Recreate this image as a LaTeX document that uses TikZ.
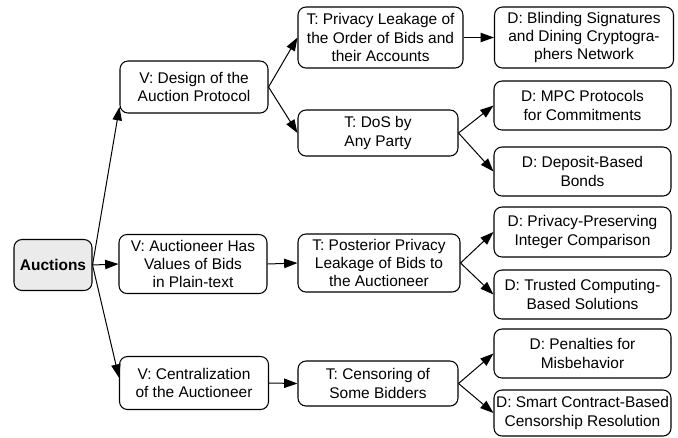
\documentclass[tikz,border=0pt]{standalone}
\usepackage{fontspec}
\setmainfont{Liberation Sans}
\usetikzlibrary{arrows.meta}
\tikzset{
BOX/.style={draw=black, line width=0.8pt, rounded corners=6pt, fill=white, align=center, inner sep=1pt, font=\fontsize{11.6}{13.6}\selectfont},
SIZE/.style 2 args={minimum width=#1*0.75pt, minimum height=#2*0.75pt},
ROOT/.style={BOX, fill=black!8, font=\fontsize{11.6}{13.6}\selectfont\bfseries},
LINK/.style={draw=black, line width=0.75pt, -{Triangle[length=10pt,width=7pt]}},
}

\begin{document}
\begin{tikzpicture}[x=0.75pt,y=-0.75pt]
	\useasboundingbox (0,0) rectangle (678,437);
	%root
	\node[ROOT, SIZE={78}{51}] (A) at (53,265) {Auctions};
	%vulnerabilities
	\node[BOX, SIZE={148}{52}] (V1) at (194,87) {V: Design of the\\Auction Protocol};
	\node[BOX, SIZE={148}{59}] (V2) at (193,264) {V: Auctioneer Has\\Values of Bids\\in Plain-text};
	\node[BOX, SIZE={149}{53}] (V3) at (194,383) {V: Centralization\\of the Auctioneer};
	%threats
	\node[BOX, SIZE={165}{61}] (T1) at (380.5,37.5) {T: Privacy Leakage of\\the Order of Bids and\\their Accounts};
	\node[BOX, SIZE={160}{46}] (T2) at (378,133) {T: DoS by\\Any Party};
	\node[BOX, SIZE={162}{58}] (T3) at (379,263) {T: Posterior Privacy\\Leakage of Bids to\\the Auctioneer};
	\node[BOX, SIZE={160}{45}] (T4) at (378,383.5) {T: Censoring of\\Some Bidders};
	%defenses
	\node[BOX, SIZE={179}{61}] (D1) at (584,37.5) {D: Blinding Signatures\\and Dining Cryptogra-\\phers Network};
	\node[BOX, SIZE={177}{49}] (D2) at (582.5,105.5) {D: MPC Protocols\\for Commitments};
	\node[BOX, SIZE={177}{49}] (D3) at (582.5,171.5) {D: Deposit-Based\\Bonds};
	\node[BOX, SIZE={177}{50}] (D4) at (582.5,232) {D: Privacy-Preserving\\Integer Comparison};
	\node[BOX, SIZE={177}{49}] (D5) at (582.5,294.5) {D: Trusted Computing-\\Based Solutions};
	\node[BOX, SIZE={177}{49}] (D6) at (582.5,353.5) {D: Penalties for\\Misbehavior};
	\node[BOX, SIZE={177}{46}] (D7) at (582.5,413) {D: Smart Contract-Based\\Censorship Resolution};
	%links
	\draw[LINK] (A.east) -- ([yshift=-15pt]V1.west);
	\draw[LINK] (A.east) -- ([yshift=4pt]V3.west);
	\foreach \a/\b in {A/V2, V1/T1, V1/T2, V2/T3, V3/T4, T1/D1, T2/D2, T2/D3, T3/D4, T3/D5, T4/D6, T4/D7}
		\draw[LINK] (\a.east) -- (\b.west);
\end{tikzpicture}
\end{document}
